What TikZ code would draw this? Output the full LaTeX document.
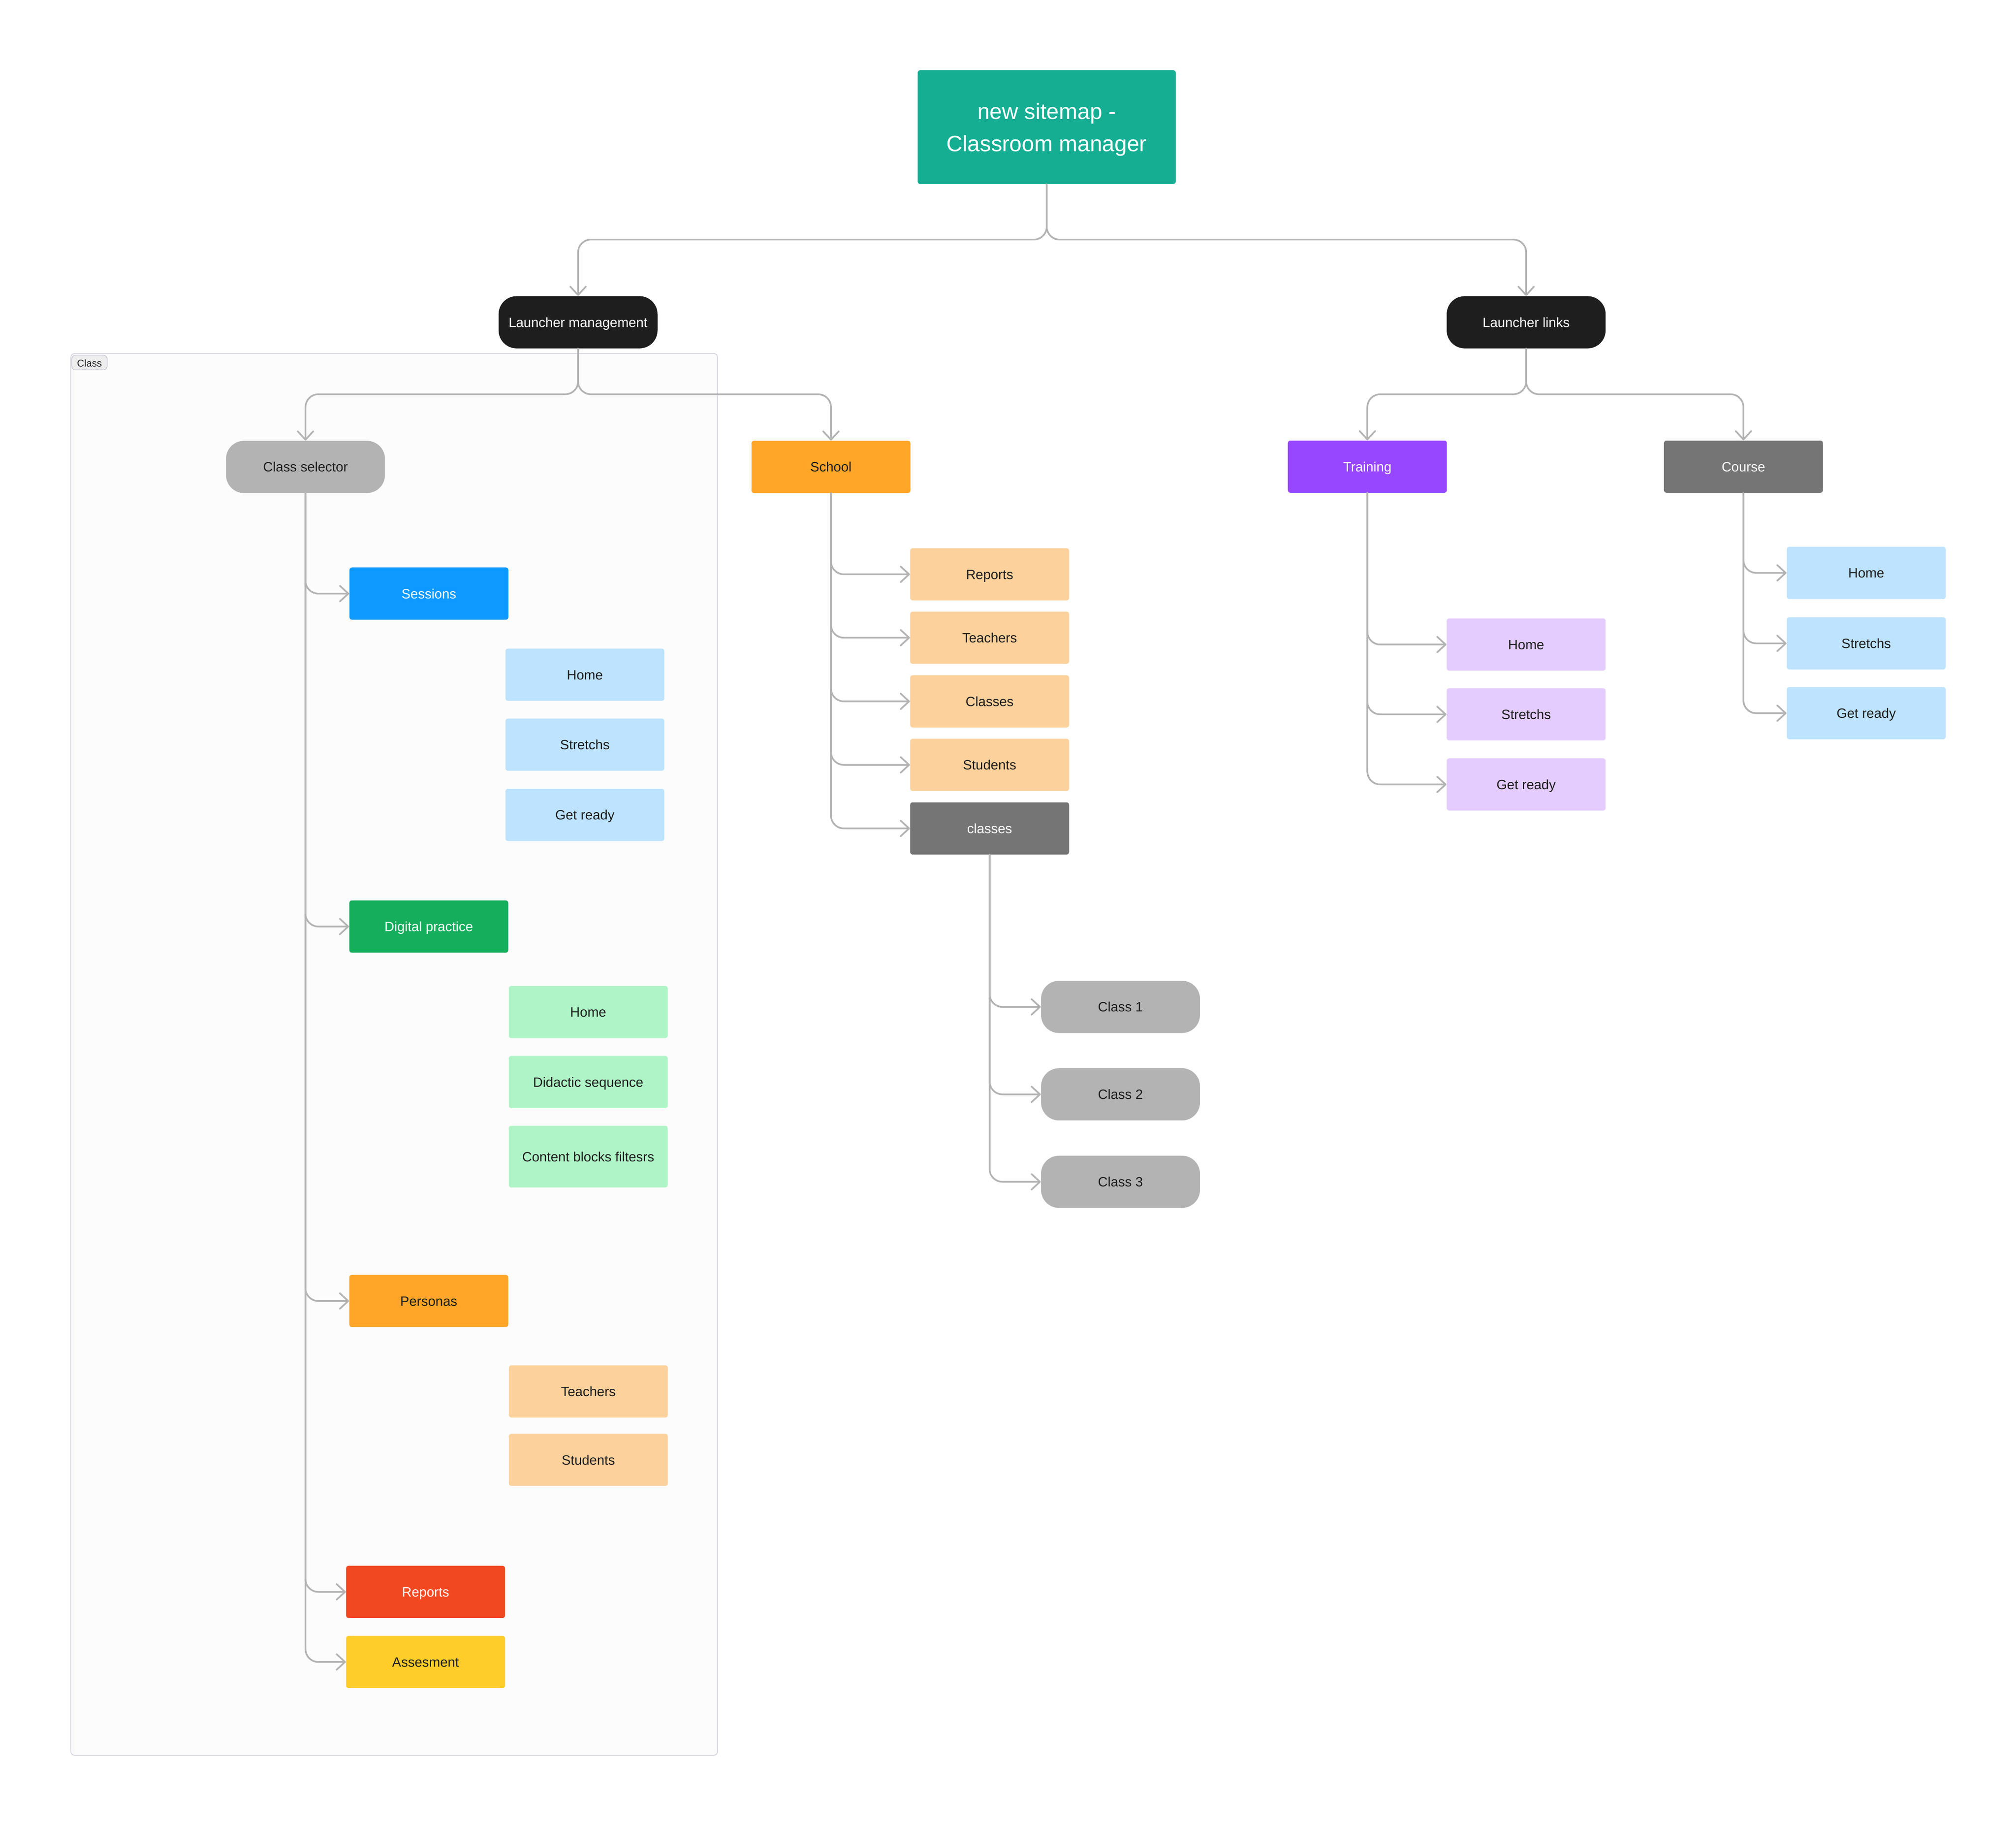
\documentclass[tikz,border=0pt]{standalone}
\usepackage{fontspec}
\setmainfont{Liberation Sans}
\usetikzlibrary{arrows.meta}
\definecolor{teal}{HTML}{15AE93}
\definecolor{nblack}{HTML}{1E1E1E}
\definecolor{ngray}{HTML}{B3B3B3}
\definecolor{ndgray}{HTML}{757575}
\definecolor{norange}{HTML}{FFA629}
\definecolor{nlorange}{HTML}{FCD19C}
\definecolor{nblue}{HTML}{0D99FF}
\definecolor{nlblue}{HTML}{BDE3FF}
\definecolor{ngreen}{HTML}{14AE5C}
\definecolor{nlgreen}{HTML}{AFF4C6}
\definecolor{nred}{HTML}{F24822}
\definecolor{nyellow}{HTML}{FFCD29}
\definecolor{npurple}{HTML}{9747FF}
\definecolor{nlpurple}{HTML}{E4CCFF}
\definecolor{linec}{HTML}{B3B3B3}
\definecolor{txtdark}{HTML}{1E1E1E}
\definecolor{framefill}{HTML}{FCFCFC}
\definecolor{framedraw}{HTML}{D2D2DE}
\definecolor{labelfill}{HTML}{EEEEEE}
\definecolor{labeldraw}{HTML}{C6C6D0}
\begin{document}
\begin{tikzpicture}[x=1pt,y=-1pt,
  box/.style={rectangle, rounded corners=2pt, minimum width=123.6pt, minimum height=40.6pt,
    inner sep=0pt, font=\fontsize{10.5}{12}\selectfont, text=txtdark,
    text height=8.5pt, text depth=0.9pt},
  pillbox/.style={box, rounded corners=14pt},
  wtext/.style={text=white},
  conn/.style={draw=linec, line width=1.3pt, rounded corners=10pt, line cap=round,
    -{Straight Barb[length=6.5pt,width=12pt,round]}},
  frame/.style={rectangle, draw=framedraw, fill=framefill, line width=0.6pt, rounded corners=3pt,
    inner sep=0pt},
  framelabel/.style={rectangle, draw=labeldraw, fill=labelfill, line width=0.5pt, rounded corners=3pt,
    inner sep=0pt, minimum width=27.5pt, minimum height=11.5pt,
    font=\fontsize{7.7}{9}\selectfont, text=txtdark, text height=7pt, text depth=0.2pt}
]
\useasboundingbox (0,0) rectangle (1568,1419.8);
\fill[white] (0,0) rectangle (1568,1419.8);

% frame
\node[frame, minimum width=502.9pt, minimum height=1090.1pt] (classframe) at (306.55,819.95) {};
\node[framelabel] (classlabel) at (69.6,281.9) {Class};

% root
\node[box, fill=teal, wtext, minimum width=200.7pt, minimum height=88.5pt,
  font=\fontsize{17.3}{25.2}\selectfont, text height=10pt, text depth=22.5pt] (root) at (814.1,98.85)
  {\begin{tabular}[t]{@{}c@{}}new sitemap -\\Classroom manager\end{tabular}};

% level 1
\node[pillbox, fill=nblack, wtext] (lm) at (449.6,250.6) {Launcher management};
\node[pillbox, fill=nblack, wtext] (ll) at (1187,250.6) {Launcher links};

% level 2
\node[pillbox, fill=ngray] (cs) at (237.6,363.1) {Class selector};
\node[box, fill=norange] (school) at (646.3,363.1) {School};
\node[box, fill=npurple, wtext] (training) at (1063.5,362.9) {Training};
\node[box, fill=ndgray, wtext] (course) at (1356,362.9) {Course};

% class selector children
\node[box, fill=nblue, wtext] (sessions) at (333.6,461.6) {Sessions};
\node[box, fill=nlblue] (shome) at (454.9,524.7) {Home};
\node[box, fill=nlblue] (sstretch) at (454.9,579.1) {Stretchs};
\node[box, fill=nlblue] (sready) at (454.9,633.7) {Get ready};
\node[box, fill=ngreen, wtext] (dp) at (333.5,720.5) {Digital practice};
\node[box, fill=nlgreen] (dhome) at (457.5,787) {Home};
\node[box, fill=nlgreen] (ddid) at (457.5,841.4) {Didactic sequence};
\node[box, fill=nlgreen, minimum height=48pt] (dcb) at (457.5,899.4) {Content blocks filtesrs};
\node[box, fill=norange] (personas) at (333.5,1011.7) {Personas};
\node[box, fill=nlorange] (pteach) at (457.6,1082) {Teachers};
\node[box, fill=nlorange] (pstud) at (457.6,1135.2) {Students};
\node[box, fill=nred, wtext] (reports) at (331,1237.9) {Reports};
\node[box, fill=nyellow] (assess) at (331,1292.4) {Assesment};

% school children
\node[box, fill=nlorange] (screp) at (769.7,446.6) {Reports};
\node[box, fill=nlorange] (scteach) at (769.7,495.9) {Teachers};
\node[box, fill=nlorange] (scclasses) at (769.7,545.4) {Classes};
\node[box, fill=nlorange] (scstud) at (769.7,594.8) {Students};
\node[box, fill=ndgray, wtext] (sccl) at (769.7,644.2) {classes};

% classes children
\node[pillbox, fill=ngray] (cone) at (871.5,783) {Class 1};
\node[pillbox, fill=ngray] (ctwo) at (871.5,851) {Class 2};
\node[pillbox, fill=ngray] (cthree) at (871.5,919) {Class 3};

% training children
\node[box, fill=nlpurple] (thome) at (1187,501.2) {Home};
\node[box, fill=nlpurple] (tstretch) at (1187,555.5) {Stretchs};
\node[box, fill=nlpurple] (tready) at (1187,610) {Get ready};

% course children
\node[box, fill=nlblue] (chome) at (1451.5,445.5) {Home};
\node[box, fill=nlblue] (cstretch) at (1451.5,500.3) {Stretchs};
\node[box, fill=nlblue] (cready) at (1451.5,554.6) {Get ready};

% connectors: top
\draw[conn] (root.south) -- (root.south |- 0,186.3) -| (lm.north);
\draw[conn] (root.south) -- (root.south |- 0,186.3) -| (ll.north);
\draw[conn] (lm.south) -- (lm.south |- 0,306.6) -| (cs.north);
\draw[conn] (lm.south) -- (lm.south |- 0,306.6) -| (school.north);
\draw[conn] (ll.south) -- (ll.south |- 0,306.6) -| (training.north);
\draw[conn] (ll.south) -- (ll.south |- 0,306.6) -| (course.north);

% class selector branches
\foreach \c in {sessions,dp,personas,reports,assess}
  \draw[conn] (cs.south) |- (\c.west);
% school branches
\foreach \c in {screp,scteach,scclasses,scstud,sccl}
  \draw[conn] (school.south) |- (\c.west);
% classes branches
\foreach \c in {cone,ctwo,cthree}
  \draw[conn] (sccl.south) |- (\c.west);
% training branches
\foreach \c in {thome,tstretch,tready}
  \draw[conn] (training.south) |- (\c.west);
% course branches
\foreach \c in {chome,cstretch,cready}
  \draw[conn] (course.south) |- (\c.west);
\end{tikzpicture}
\end{document}
